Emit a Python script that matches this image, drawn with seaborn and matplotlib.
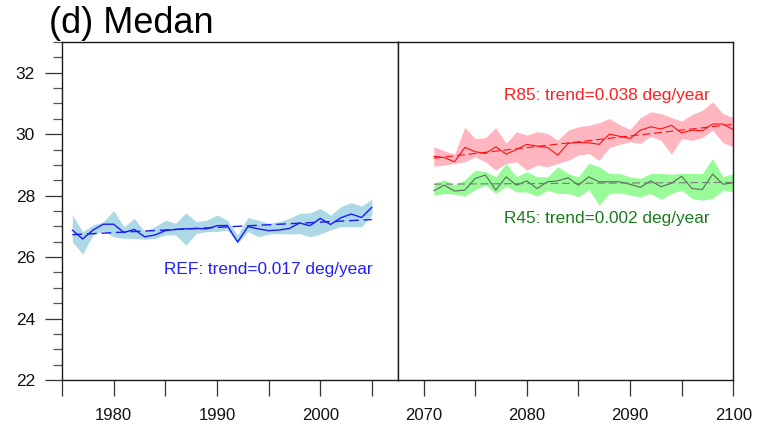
import numpy as np
import pandas as pd
import matplotlib
matplotlib.use("Agg")
import matplotlib.pyplot as plt
from matplotlib.ticker import MultipleLocator, FixedLocator, FixedFormatter
import seaborn as sns

# ---------------- data ----------------
ref_years = list(range(1976, 2006))
ref_mean = [26.88, 26.59, 26.88, 27.07, 27.07, 26.80, 26.90, 26.66, 26.72, 26.86,
            26.90, 26.92, 26.93, 26.92, 27.02, 27.03, 26.49, 26.99, 26.92, 26.86,
            26.88, 26.93, 27.11, 27.02, 27.26, 27.06, 27.28, 27.40, 27.29, 27.62]
ref_upper = [27.37, 26.83, 27.04, 27.15, 27.51, 26.99, 27.26, 26.83, 26.99, 27.20,
             27.10, 27.44, 27.15, 27.20, 27.37, 27.20, 26.72, 27.29, 27.20, 27.10,
             27.15, 27.26, 27.42, 27.44, 27.58, 27.37, 27.64, 27.77, 27.66, 27.88]
ref_lower = [26.50, 26.10, 26.72, 26.85, 26.66, 26.61, 26.61, 26.58, 26.61, 26.72,
             26.72, 26.39, 26.77, 26.83, 26.83, 26.88, 26.45, 26.83, 26.66, 26.75,
             26.77, 26.75, 26.77, 26.66, 26.75, 26.88, 26.99, 26.99, 26.99, 27.37]

fut_years = list(range(2071, 2101))
r85_mean = [29.28, 29.24, 29.10, 29.57, 29.43, 29.37, 29.59, 29.35, 29.50, 29.67,
            29.61, 29.57, 29.32, 29.70, 29.73, 29.72, 29.67, 30.00, 29.93, 29.86,
            30.13, 30.24, 30.17, 30.29, 30.04, 30.13, 30.11, 30.33, 30.33, 30.15]
r85_upper = [29.59, 29.46, 29.35, 30.22, 29.86, 29.89, 30.21, 29.70, 30.08, 29.97,
             30.08, 30.03, 29.80, 30.13, 30.24, 30.29, 30.37, 30.51, 30.31, 30.15,
             30.54, 30.73, 30.67, 30.54, 30.43, 30.64, 30.78, 31.05, 30.67, 30.54]
r85_lower = [28.96, 28.99, 29.05, 29.10, 29.26, 29.10, 28.83, 29.05, 29.10, 28.83,
             28.99, 28.94, 29.05, 29.15, 29.32, 29.37, 29.15, 29.57, 29.67, 29.75,
             29.70, 29.93, 29.80, 29.35, 29.86, 29.80, 29.89, 30.13, 29.72, 29.59]

r45_mean = [28.16, 28.34, 28.15, 28.18, 28.56, 28.67, 28.18, 28.61, 28.34, 28.48,
            28.23, 28.45, 28.48, 28.58, 28.34, 28.61, 28.45, 28.45, 28.45, 28.37,
            28.27, 28.48, 28.29, 28.40, 28.63, 28.23, 28.20, 28.70, 28.37, 28.42]
r45_upper = [28.40, 28.51, 28.34, 28.51, 28.83, 28.78, 28.61, 29.05, 28.61, 28.78,
             28.61, 28.61, 28.94, 28.72, 28.61, 29.05, 28.94, 28.72, 28.72, 28.61,
             28.56, 28.72, 28.72, 28.70, 28.72, 28.72, 28.72, 29.21, 28.61, 28.72]
r45_lower = [28.02, 28.07, 28.05, 27.98, 28.20, 28.34, 28.07, 28.31, 28.12, 28.12,
             27.98, 28.18, 28.07, 28.07, 27.96, 28.20, 27.69, 28.07, 28.09, 28.02,
             27.96, 28.07, 27.88, 28.07, 28.18, 27.91, 27.85, 27.91, 28.18, 28.12]

# linear trends (deg/year)
ref_trend = 0.017
r85_trend = 0.038
r45_trend = 0.002

title = "(d) Medan"
ref_label = f"REF: trend={ref_trend:.3f} deg/year"
r85_label = f"R85: trend={r85_trend:.3f} deg/year"
r45_label = f"R45: trend={r45_trend:.3f} deg/year"

left_ticklabels = ["", "1980", "", "1990", "", "2000", ""]
right_ticklabels = ["2070", "", "2080", "", "2090", "", "2100"]
y_ticks = [22, 24, 26, 28, 30, 32]

# ---------------- style ----------------
sns.set_theme(style="white")
plt.rcParams["font.family"] = ["Liberation Sans", "DejaVu Sans"]

W, H = 759, 426
fig = plt.figure(figsize=(W / 100, H / 100), dpi=100)
x0, xm, x1 = 62, 397.7, 733.3
ybot, ytop = 380, 42
axL = fig.add_axes([x0 / W, (H - ybot) / H, (xm - x0) / W, (ybot - ytop) / H])
axR = fig.add_axes([xm / W, (H - ybot) / H, (x1 - xm) / W, (ybot - ytop) / H])


def trend_line(years, values, slope):
    yrs = np.asarray(years, dtype=float)
    vals = np.asarray(values, dtype=float)
    return vals.mean() + slope * (yrs - yrs.mean())


def draw_series(ax, years, mean, lower, upper, slope, band_color, line_color,
                trend_color, lw):
    ax.fill_between(years, lower, upper, color=band_color, linewidth=0, zorder=1)
    df = pd.DataFrame({"year": years, "temp": mean,
                       "trend": trend_line(years, mean, slope)})
    sns.lineplot(data=df, x="year", y="temp", ax=ax, color=line_color,
                 linewidth=lw, zorder=3)
    sns.lineplot(data=df, x="year", y="trend", ax=ax, color=trend_color,
                 linewidth=lw, dashes=False, zorder=4).lines[-1].set_dashes([7, 3.5])


draw_series(axL, ref_years, ref_mean, ref_lower, ref_upper, ref_trend,
            "#add8e6", "#1a1aff", "#1a1aff", 1.0)
draw_series(axR, fut_years, r85_mean, r85_lower, r85_upper, r85_trend,
            "#ffb6c1", "#ff1010", "#ff1010", 0.8)
draw_series(axR, fut_years, r45_mean, r45_lower, r45_upper, r45_trend,
            "#98fb98", "#5c6a5c", "#7a7a7a", 0.8)

txt_kw = dict(fontsize=12.4, ha="right", va="center")
axL.text(2005.05, 25.6, ref_label, color="#2020ff", **txt_kw)
axR.text(2097.75, 31.25, r85_label, color="#ff2020", **txt_kw)
axR.text(2097.75, 27.26, r45_label, color="#1c7a1c", **txt_kw)

for ax in (axL, axR):
    ax.set_ylim(22, 33)
    ax.set_xlabel("")
    ax.set_ylabel("")
    for s in ax.spines.values():
        s.set_visible(True)
        s.set_color("#1a1a1a")
        s.set_linewidth(1.0)

axL.set_xlim(1975, 2007.5)
axR.set_xlim(2067.5, 2100)

axL.xaxis.set_major_locator(FixedLocator(list(range(1975, 2006, 5))))
axL.xaxis.set_major_formatter(FixedFormatter(left_ticklabels))
axR.xaxis.set_major_locator(FixedLocator(list(range(2070, 2101, 5))))
axR.xaxis.set_major_formatter(FixedFormatter(right_ticklabels))

axL.yaxis.set_major_locator(FixedLocator(y_ticks))
axL.yaxis.set_minor_locator(MultipleLocator(0.5))
axL.tick_params(axis="y", which="major", direction="out", length=12.5, width=0.9,
                color="#333333", labelsize=12.5, pad=7, left=True, right=False)
axL.tick_params(axis="y", which="minor", direction="out", length=6.3, width=0.9,
                color="#555555", left=True, right=False)
axR.tick_params(axis="y", which="both", left=False, right=False, labelleft=False)

for ax in (axL, axR):
    ax.tick_params(axis="x", which="major", direction="out", length=11.5, width=0.9,
                   color="#333333", labelsize=12, pad=9, bottom=True, top=False)
    ax.tick_params(axis="x", which="minor", bottom=False, top=False)
    ax.tick_params(labelcolor="#111111")

fig.text(49 / W, 1 - 33 / H, title, fontsize=26, ha="left", va="baseline",
         color="black")

fig.savefig("out.png", dpi=100)
